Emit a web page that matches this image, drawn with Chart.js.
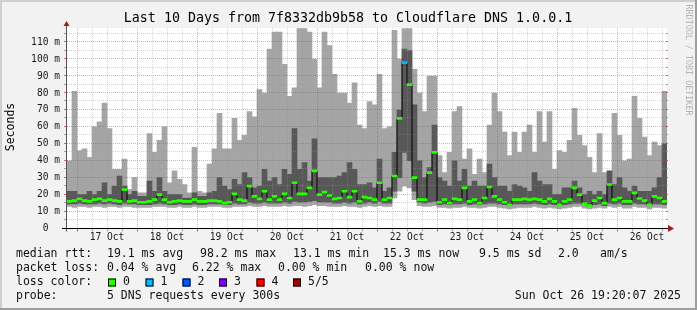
<!DOCTYPE html>
<html>
<head>
<meta charset="utf-8">
<script src="https://cdn.jsdelivr.net/npm/chart.js@4.4.1/dist/chart.umd.min.js"></script>
<style>
  html, body { margin: 0; padding: 0; background: #f2f2f2; }
  canvas { display: block; }
</style>
</head>
<body>
<canvas id="smoke_chart" width="697" height="310"></canvas>
<script>
// one column = 2 hours, first column starts Thu Oct 16 20:00
const SLOT_HOURS = 2;
const dayLabels = ['17 Oct', '18 Oct', '19 Oct', '20 Oct', '21 Oct', '22 Oct', '23 Oct', '24 Oct', '25 Oct', '26 Oct'];

// top of the smoke (slowest ping), ms
const maxRtt = [
  40, 81, 46, 47, 42, 60, 63, 74, 59, 35, 35, 41, 23, 30, 21, 21, 56, 45, 52, 60, 27, 34, 29, 26, 21, 48, 22, 21, 38, 47,
  68, 47, 47, 65, 52, 55, 69, 66, 82, 80, 106, 116, 116, 97, 78, 83, 118, 118, 116, 100, 83, 116, 108, 91, 80, 80, 74, 86, 61, 59,
  75, 73, 91, 59, 60, 117, 100, 118, 118, 94, 80, 69, 90, 90, 43, 33, 45, 69, 72, 41, 47, 32, 41, 33, 61, 80, 69, 57, 43, 57,
  45, 57, 61, 45, 69, 51, 69, 35, 46, 45, 52, 71, 55, 49, 42, 33, 56, 33, 33, 68, 55, 40, 41, 78, 65, 54, 43, 51, 49, 81
];
// upper edge of the dark smoke (4th ping)
const highRtt = [
  22, 22, 20, 20, 22, 20, 22, 27, 20, 25, 31, 25, 20, 22, 19, 19, 28, 22, 30, 22, 20, 20, 20, 18, 18, 21, 19, 19, 21, 22,
  30, 25, 23, 29, 26, 33, 30, 24, 25, 35, 28, 30, 26, 35, 32, 59, 35, 39, 28, 53, 30, 30, 30, 30, 31, 33, 39, 35, 26, 26,
  27, 24, 41, 22, 24, 45, 70, 106, 105, 73, 40, 30, 36, 61, 30, 28, 25, 40, 28, 35, 25, 28, 25, 25, 38, 30, 25, 25, 22, 26,
  25, 24, 22, 33, 28, 26, 26, 20, 20, 24, 24, 28, 24, 20, 22, 20, 22, 20, 34, 26, 30, 24, 22, 25, 22, 22, 22, 24, 30, 50
];
// median rtt
const medianRtt = [
  16, 16.5, 17.5, 16.5, 16, 17, 17.5, 16.5, 17, 16.5, 16, 23, 16, 16.5, 15.5, 15.5, 16, 17, 20, 17, 15.5, 16, 16.5, 16, 16, 17, 16, 16, 16.5, 16.5,
  16, 15, 15.5, 20.5, 17, 16.5, 25, 19, 17.5, 22, 17, 19, 17, 20.5, 18, 27, 20.5, 20.5, 24, 34, 20, 21.5, 19.5, 17.5, 18, 22, 18.5, 22, 16, 18.5,
  18, 17, 27, 17, 18, 31, 65, 98, 85, 30, 17, 17, 33, 45, 15.5, 17, 15, 17.5, 17, 24, 16, 17, 15, 18, 24.5, 19, 17, 15.5, 14, 17,
  17, 17.5, 17, 17.5, 17, 16, 17.5, 16, 14, 16, 17, 24, 20, 14.5, 13.5, 16.5, 18, 15, 26, 17, 18, 16, 16, 21, 17.7, 16.5, 14, 19, 18, 16
];
// lower edge of the dark smoke (2nd ping)
const lowRtt = [
  14.5, 14.5, 15, 14.5, 14.5, 14.5, 15, 14.5, 15, 14.5, 14, 15, 14.5, 14.5, 14, 14, 14, 14.5, 15, 14.5, 14, 14, 14.5, 14, 14, 14.5, 14, 14, 14.5, 14.5,
  14.5, 14, 14, 15, 14.5, 14.5, 15.5, 15, 15, 15.5, 15, 15, 15, 15.5, 15, 16, 15.5, 15.5, 16, 16.5, 15.5, 15.5, 15.5, 15, 15, 15.5, 15, 15.5, 14.5, 15,
  15.5, 15, 16, 15, 15, 22, 30, 45, 40, 22, 15.5, 15, 15.5, 16, 14, 14.5, 14, 14.5, 14.5, 15, 14, 14.5, 14, 14.5, 15, 15, 14.5, 14, 13.5, 14.5,
  14.5, 14.5, 14.5, 15, 14.5, 14, 14.5, 14, 13.5, 14, 14.5, 15, 15, 14, 13, 14, 14.5, 13.5, 15, 14.5, 15, 14, 14, 15, 14.5, 14.5, 13.5, 14.5, 14.5, 14
];
// bottom of the smoke (fastest ping)
const minRtt = [
  13, 12.5, 13, 13, 12.5, 13, 13, 12.5, 13, 13, 12.5, 13, 13, 12.5, 12.5, 12.5, 12.5, 13, 13, 13, 12.5, 12.5, 13, 12.5, 12.5, 13, 12.5, 12.5, 13, 13,
  13, 12.5, 12.5, 13, 13, 13, 13.5, 13, 13, 13.5, 13, 13, 13, 13.5, 13, 13.5, 13.5, 13, 13.5, 14, 13.5, 13.5, 13, 13, 13, 13.5, 13, 13, 12.5, 13,
  13.5, 13, 13.5, 13, 13, 18, 22, 25, 24, 17, 13.5, 13, 13, 13.5, 12.5, 12.5, 12, 12.5, 12.5, 13, 12.5, 12.5, 12, 12.5, 13, 13, 12.5, 12, 11.5, 12,
  12.5, 12.5, 12.5, 13, 12.5, 12, 12.5, 12, 11.5, 12, 12.5, 13, 13, 12, 11.5, 12, 12.5, 12, 13, 12.5, 13, 12, 12, 13, 12.5, 12.5, 11.5, 12.5, 12.5, 12
];
// lost pings out of 5 per column
const lossPings = [
  0, 0, 0, 0, 0, 0, 0, 0, 0, 0, 0, 0, 0, 0, 0, 0, 0, 0, 0, 0, 0, 0, 0, 0, 0, 0, 0, 0, 0, 0,
  0, 0, 0, 0, 0, 0, 0, 0, 0, 0, 0, 0, 0, 0, 0, 0, 0, 0, 0, 0, 0, 0, 0, 0, 0, 0, 0, 0, 0, 0,
  0, 0, 0, 0, 0, 0, 0, 1, 0, 0, 0, 0, 0, 0, 0, 0, 0, 0, 0, 0, 0, 0, 0, 0, 0, 0, 0, 0, 0, 0,
  0, 0, 0, 0, 0, 0, 0, 0, 0, 0, 0, 0, 0, 0, 0, 0, 0, 0, 0, 0, 0, 0, 0, 0, 0, 0, 0, 0, 0, 0
];

const lossNames = ['0', '1', '2', '3', '4', '5/5'];
const lossColors = ['#26ff00', '#00b8ff', '#0059ff', '#7e00ff', '#ff0000', '#a10000'];

const MONO = '"DejaVu Sans Mono", "Liberation Mono", monospace';
const Y_MAX = 118.4;

function slotX(i) {
  return i * SLOT_HOURS + SLOT_HOURS / 2;
}

var gridHours = [];
for (var h = 4; h < 240; h += 6) gridHours.push(h);
var gridMs = [];
for (var v = 0; v < Y_MAX; v += 5) gridMs.push(v);

function dottedLine(ctx, x1, y1, x2, y2, color) {
  ctx.save();
  ctx.strokeStyle = color;
  ctx.lineWidth = 1;
  ctx.setLineDash([1, 1]);
  ctx.beginPath();
  ctx.moveTo(x1, y1);
  ctx.lineTo(x2, y2);
  ctx.stroke();
  ctx.restore();
}

const smokeFrame = {
  id: 'smokeFrame',
  beforeDraw(chart) {
    const ctx = chart.ctx;
    const a = chart.chartArea;
    ctx.save();
    ctx.fillStyle = '#f2f2f2';
    ctx.fillRect(0, 0, chart.width, chart.height);
    // 3d frame
    ctx.fillStyle = '#cfcfcf';
    ctx.fillRect(0, 0, chart.width, 2);
    ctx.fillRect(0, 0, 2, chart.height);
    ctx.fillStyle = '#9e9e9e';
    ctx.fillRect(0, chart.height - 2, chart.width, 2);
    ctx.fillRect(chart.width - 2, 0, 2, chart.height);
    ctx.fillStyle = '#ffffff';
    ctx.fillRect(a.left, a.top, a.right - a.left, a.bottom - a.top);
    ctx.restore();
  },
  afterDatasetDraw(chart, args) {
    if (args.index !== 1) return;
    // grid goes over the smoke, under the median
    const ctx = chart.ctx;
    const a = chart.chartArea;
    const xs = chart.scales.x, ys = chart.scales.y;
    gridHours.forEach(function (h) {
      const px = Math.round(xs.getPixelForValue(h)) + 0.5;
      const major = (h - 4) % 24 === 0;
      dottedLine(ctx, px, a.top, px, a.bottom, major ? 'rgba(230,40,40,0.42)' : 'rgba(150,150,150,0.38)');
    });
    gridMs.forEach(function (m) {
      if (m === 0) return;
      const py = Math.round(ys.getPixelForValue(m)) - 0.5;
      const major = m % 10 === 0;
      dottedLine(ctx, a.left, py, a.right, py, major ? 'rgba(230,40,40,0.42)' : 'rgba(150,150,150,0.38)');
    });
  },
  afterDraw(chart) {
    const ctx = chart.ctx;
    const a = chart.chartArea;
    const xs = chart.scales.x, ys = chart.scales.y;
    const zeroY = Math.round(ys.getPixelForValue(0)) - 0.5;
    ctx.save();

    // tick marks on the axes
    ctx.lineWidth = 1;
    gridMs.forEach(function (m) {
      const py = Math.round(ys.getPixelForValue(m)) - 0.5;
      ctx.strokeStyle = m % 10 === 0 ? 'rgba(220,60,60,0.8)' : 'rgba(140,140,140,0.8)';
      ctx.beginPath();
      ctx.moveTo(a.left - 3, py); ctx.lineTo(a.left, py);
      ctx.moveTo(a.right - 1, py); ctx.lineTo(a.right + 1, py);
      ctx.stroke();
    });
    gridHours.forEach(function (h) {
      const px = Math.round(xs.getPixelForValue(h)) + 0.5;
      ctx.strokeStyle = (h - 4) % 24 === 0 ? 'rgba(220,60,60,0.8)' : 'rgba(140,140,140,0.8)';
      ctx.beginPath();
      ctx.moveTo(px, zeroY); ctx.lineTo(px, zeroY + 3);
      ctx.stroke();
    });

    // axes
    ctx.strokeStyle = '#555555';
    ctx.beginPath();
    ctx.moveTo(a.left - 0.5, zeroY + 3);
    ctx.lineTo(a.left - 0.5, a.top - 4);
    ctx.stroke();
    ctx.strokeStyle = '#000000';
    ctx.beginPath();
    ctx.moveTo(a.left - 5, zeroY);
    ctx.lineTo(a.right + 1, zeroY);
    ctx.stroke();

    // arrows
    ctx.fillStyle = '#a31a1a';
    ctx.beginPath();
    ctx.moveTo(a.left - 0.5, a.top - 7);
    ctx.lineTo(a.left - 3.5, a.top - 2);
    ctx.lineTo(a.left + 2.5, a.top - 2);
    ctx.closePath();
    ctx.fill();
    ctx.beginPath();
    ctx.moveTo(a.right + 7, zeroY);
    ctx.lineTo(a.right + 1, zeroY - 3.5);
    ctx.lineTo(a.right + 1, zeroY + 3.5);
    ctx.closePath();
    ctx.fill();

    // title
    ctx.fillStyle = '#000000';
    ctx.font = '13.3px ' + MONO;
    ctx.textAlign = 'center';
    ctx.textBaseline = 'middle';
    ctx.fillText('Last 10 Days from 7f8332db9b58 to Cloudflare DNS 1.0.0.1', 348, 19);

    // vertical axis title
    ctx.save();
    ctx.font = '11.5px ' + MONO;
    ctx.translate(11, 127);
    ctx.rotate(-Math.PI / 2);
    ctx.fillText('Seconds', 0, 0);
    ctx.restore();

    // watermark
    ctx.save();
    ctx.font = '8.4px ' + MONO;
    ctx.fillStyle = '#b4b4b4';
    ctx.translate(688, 60);
    ctx.rotate(Math.PI / 2);
    ctx.fillText('RRDTOOL / TOBI OETIKER', 0, 0);
    ctx.restore();

    // legend
    ctx.font = '11.5px ' + MONO;
    ctx.textAlign = 'left';
    ctx.fillStyle = '#111111';
    const rows = [
      [254.5, [[16, 'median rtt:'], [107, '19.1 ms avg'], [200, '98.2 ms max'], [293, '13.1 ms min'],
               [383, '15.3 ms now'], [479, '9.5 ms sd'], [558, '2.0'], [600, 'am/s']]],
      [268.5, [[16, 'packet loss:'], [107, '0.04 % avg'], [192, '6.22 % max'], [278, '0.00 % min'], [365, '0.00 % now']]],
      [282.5, [[16, 'loss color:']]],
      [296.5, [[16, 'probe:'], [107, '5 DNS requests every 300s']]]
    ];
    rows.forEach(function (r) {
      r[1].forEach(function (t) { ctx.fillText(t[1], t[0], r[0]); });
    });
    const swatchX = [108, 145.5, 182.5, 219, 256.5, 293];
    lossNames.forEach(function (name, k) {
      ctx.fillStyle = lossColors[k];
      ctx.fillRect(swatchX[k], 278.5, 8, 8);
      ctx.strokeStyle = '#000000';
      ctx.strokeRect(swatchX[k] + 0.5, 278.5 + 0.5, 7, 7);
      ctx.fillStyle = '#111111';
      ctx.fillText(name, swatchX[k] + 15, 282.5);
    });
    ctx.textAlign = 'right';
    ctx.fillText('Sun Oct 26 19:20:07 2025', 681, 296.5);
    ctx.restore();
  }
};

var ctx_smoke = document.getElementById('smoke_chart').getContext('2d');
var smokeChart = new Chart(ctx_smoke, {
  type: 'bar',
  data: {
    datasets: [{
      label: 'smoke',
      data: maxRtt.map(function (v, i) { return { x: slotX(i), y: [minRtt[i], v] }; }),
      backgroundColor: '#a5a5a5',
      grouped: false,
      barPercentage: 1,
      categoryPercentage: 1,
      order: 4
    },
    {
      label: 'smoke inner',
      data: highRtt.map(function (v, i) { return { x: slotX(i), y: [lowRtt[i], v] }; }),
      backgroundColor: '#585858',
      grouped: false,
      barPercentage: 1,
      categoryPercentage: 1,
      order: 3
    },
    {
      type: 'line',
      label: 'median line',
      data: medianRtt.map(function (v, i) { return { x: slotX(i), y: v }; }),
      borderColor: '#000000',
      borderWidth: 1,
      pointRadius: 0,
      stepped: 'middle',
      order: 2
    },
    {
      label: 'median rtt',
      data: medianRtt.map(function (v, i) { return { x: slotX(i), y: [v - 0.6, v + 0.6] }; }),
      backgroundColor: lossPings.map(function (n) { return lossColors[n]; }),
      grouped: false,
      barPercentage: 1,
      categoryPercentage: 1,
      order: 1
    }]
  },
  options: {
    responsive: false,
    animation: false,
    devicePixelRatio: 1,
    layout: { padding: { left: 0, right: 30, top: 28, bottom: 61.5 } },
    plugins: { legend: { display: false }, tooltip: { enabled: false } },
    scales: {
      x: {
        type: 'linear',
        min: 0,
        max: 240,
        offset: false,
        grid: { display: false, drawTicks: false, offset: false },
        border: { display: false },
        afterFit: function (scale) { scale.height = 20; },
        afterBuildTicks: function (scale) {
          scale.ticks = gridHours.map(function (h) { return { value: h }; });
        },
        ticks: {
          autoSkip: false,
          maxRotation: 0,
          padding: 3,
          color: '#1a1a1a',
          font: { family: MONO, size: 9.6 },
          callback: function (value) {
            var k = (value - 16) / 24;
            return Number.isInteger(k) ? dayLabels[k] : '';
          }
        }
      },
      y: {
        min: 0,
        max: Y_MAX,
        grid: { display: false, drawTicks: false },
        border: { display: false },
        afterFit: function (scale) { scale.width = 67; },
        afterBuildTicks: function (scale) {
          scale.ticks = gridMs.map(function (m) { return { value: m }; });
        },
        ticks: {
          autoSkip: false,
          padding: 7,
          color: '#1a1a1a',
          font: { family: MONO, size: 9.6 },
          callback: function (value) {
            if (value % 10 !== 0) return '';
            return value === 0 ? '0  ' : value + ' m';
          }
        }
      }
    }
  },
  plugins: [smokeFrame]
});
</script>
</body>
</html>
